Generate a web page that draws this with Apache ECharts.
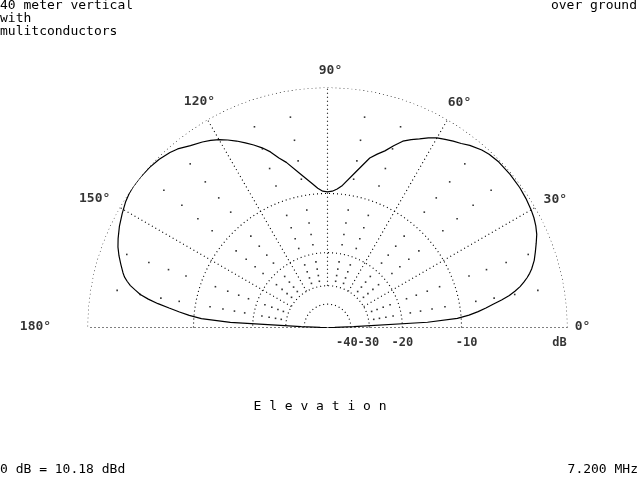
<!DOCTYPE html>
<html><head><meta charset="utf-8">
<style>html,body{margin:0;padding:0;background:#fff;}#c{width:640px;height:480px;}</style>
<script src="https://cdn.jsdelivr.net/npm/echarts@6/dist/echarts.min.js"></script>
</head><body><div id="c"></div>
<script>
// ---- data (elevation angle in degrees, relative gain in dB) ----
const angleDeg = [0,1,2,3,4,5,6,7,8,9,10,11,12,13,14,15,16,18,20,22,24,26,28,30,33,36,40,44,47,49,52,54,56,58,60,62,64,66,68,70,72,74,76,80,84,86,88,90,
  92,94,96,100,104,106,108,110,112,114,116,118,120,122,124,127,130,132,135,138,141,144,146,148,151,154,157,159,161,163,165,166,167,168,169,170,171,172,173,174,175,176,177,178,179,180];
const gainDb = [-99,-60,-38,-15,-10.5,-9.0,-7.9,-7.0,-6.2,-5.3,-4.5,-3.9,-3.4,-3.0,-2.65,-2.35,-2.1,-1.7,-1.4,-1.1,-0.8,-0.6,-0.45,-0.35,-0.24,-0.16,-0.12,-0.13,-0.22,-0.35,-0.65,-0.92,-1.12,-1.35,-1.58,-1.9,-2.3,-2.65,-3.05,-3.7,-4.4,-4.9,-5.45,-7.3,-8.9,-9.4,-9.7,-9.8,
  -9.7,-9.3,-8.7,-7.4,-5.9,-5.3,-4.5,-3.9,-3.4,-2.95,-2.5,-2.1,-1.74,-1.45,-1.2,-0.9,-0.5,-0.33,-0.15,-0.05,0,0,-0.05,-0.15,-0.38,-0.62,-0.92,-1.15,-1.45,-1.8,-2.15,-2.35,-2.65,-3.0,-3.5,-4.0,-4.8,-5.8,-7.0,-8.2,-9.4,-11.0,-15.5,-38,-60,-99];
const ringDb = [0,-10,-20,-30,-40];
const ringLabels = ['-10','-20','-30','-40'];
const ringLabelDb = [-10,-20,-30,-40];
const spokeAngles = [30,60,90,120,150];
const angleTicks = [0,30,60,90,120,150,180];
const dotAngles = [10,20,40,50,70,80,100,110,130,140,160,170];
const dotDb = [-2,-4,-6,-8,-12,-14,-16,-18,-22,-24,-26,-28];
const titleLines = ['40 meter vertical','with','mulitconductors'];
const subTitle = 'over ground';
const plotName = 'E l e v a t i o n';
const refText = '0 dB = 10.18 dBd';
const freqText = '7.200 MHz';

// ---- layout / style (not data) ----
const FONT = 'DejaVu Sans Mono';
const FS = 13;
const CX = 327.5, CY = 327.5, RAD = 240;
const angleLabelOffset = {0:[15,-1],30:[20,-8],60:[12,-17],90:[3,-17],120:[-8,-18],150:[-25,-9],180:[-52,-1]};
const ringLabelOffset = {'-10':[5,15],'-20':[0,15],'-30':[-1,15],'-40':[-4,15]};

// ARRL log scale: radius factor 0.89 per 2 dB
const R = db => Math.pow(0.89, -db / 2);
const arc = [];
for (let a = 0; a <= 180; a++) arc.push(a);

const dotted = {color:'#000', width:1.15, type:[1,3]};
const series = [];
ringDb.forEach(db => series.push({type:'line', coordinateSystem:'polar', data: arc.map(a => [R(db), a]),
  showSymbol:false, silent:true, lineStyle:dotted, z:1}));
spokeAngles.forEach(a => series.push({type:'line', coordinateSystem:'polar', data: [[R(-30), a],[R(0), a]],
  showSymbol:false, silent:true, lineStyle:dotted, z:1}));
series.push({type:'line', coordinateSystem:'polar', data: [[R(0), 0],[R(0), 180]],
  showSymbol:false, silent:true, lineStyle:dotted, z:1});
const dots = [];
dotAngles.forEach(a => dotDb.forEach(db => dots.push([R(db), a])));
series.push({type:'scatter', coordinateSystem:'polar', data: dots, symbol:'rect', symbolSize:1.6,
  itemStyle:{color:'#000'}, silent:true, z:1});
series.push({type:'line', coordinateSystem:'polar', data: angleDeg.map((a,i) => [R(gainDb[i]), a]),
  showSymbol:false, silent:true, lineStyle:{color:'#000', width:1.2}, z:3});
const lab = {show:true, position:'inside', formatter:p => p.name, color:'#000', fontFamily:FONT, fontWeight:'bold', align:'center', verticalAlign:'middle'};
series.push({type:'scatter', coordinateSystem:'polar', symbolSize:0, silent:true,
  data: angleTicks.map(a => ({value:[R(0), a], name: a + '°', label:{offset: angleLabelOffset[a]}})),
  label:Object.assign({fontSize:FS}, lab)});
series.push({type:'scatter', coordinateSystem:'polar', symbolSize:0, silent:true,
  data: ringLabelDb.map((db,i) => ({value:[R(db), 0], name: ringLabels[i], label:{offset: ringLabelOffset[ringLabels[i]]}})).concat([{value:[R(0),0], name:'dB', label:{offset:[-8,15]}}]),
  label:Object.assign({fontSize:12}, lab)});

const ts = {fontFamily:FONT, fontSize:FS, fontWeight:'normal', color:'#000', lineHeight:13};
const chart = echarts.init(document.getElementById('c'), null, {renderer:'canvas'});
chart.setOption({
  backgroundColor:'#fff',
  animation:false,
  title:[
    {text:titleLines.join('\n'), left:0, top:-1, padding:0, textStyle:ts},
    {text:subTitle, right:3, top:-1, padding:0, textStyle:ts},
    {text:plotName, left:'center', top:400, padding:0, textStyle:ts},
    {text:refText, left:0, top:463, padding:0, textStyle:ts},
    {text:freqText, right:2, top:463, padding:0, textStyle:ts}
  ],
  polar:{center:[CX, CY], radius:RAD},
  angleAxis:{type:'value', min:0, max:360, startAngle:0, clockwise:false, show:false},
  radiusAxis:{type:'value', min:0, max:1, show:false},
  series: series
});
</script></body></html>
